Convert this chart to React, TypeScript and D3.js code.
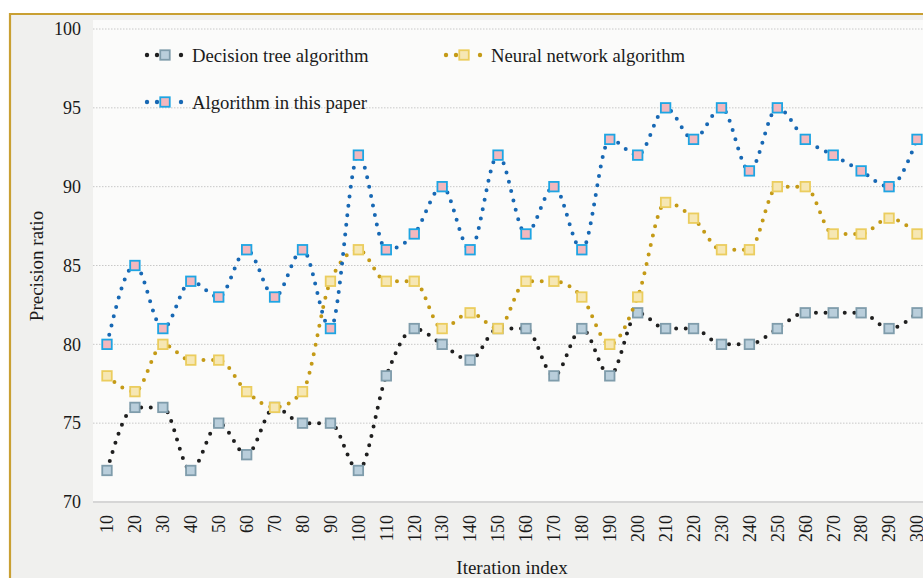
import React, { useEffect, useRef } from "react";
import * as d3 from "d3";

const iterations = [
  10, 20, 30, 40, 50, 60, 70, 80, 90, 100, 110, 120, 130, 140, 150,
  160, 170, 180, 190, 200, 210, 220, 230, 240, 250, 260, 270, 280, 290, 300,
];
const decisionTree = [
  72, 76, 76, 72, 75, 73, 76, 75, 75, 72, 78, 81, 80, 79, 81,
  81, 78, 81, 78, 82, 81, 81, 80, 80, 81, 82, 82, 82, 81, 82,
];
const neuralNetwork = [
  78, 77, 80, 79, 79, 77, 76, 77, 84, 86, 84, 84, 81, 82, 81,
  84, 84, 83, 80, 83, 89, 88, 86, 86, 90, 90, 87, 87, 88, 87,
];
const thisPaper = [
  80, 85, 81, 84, 83, 86, 83, 86, 81, 92, 86, 87, 90, 86, 92,
  87, 90, 86, 93, 92, 95, 93, 95, 91, 95, 93, 92, 91, 90, 93,
];
const yTicks = [70, 75, 80, 85, 90, 95, 100];

const series = [
  { name: "Decision tree algorithm", values: decisionTree, line: "#1f1f1f", fill: "#b9cedb", stroke: "#7f9cab" },
  { name: "Neural network algorithm", values: neuralNetwork, line: "#c49a16", fill: "#f6e7b4", stroke: "#ebcd5e" },
  { name: "Algorithm in this paper", values: thisPaper, line: "#1768b4", fill: "#f3b8be", stroke: "#1ea5e3" },
];

const W = 923;
const H = 578;
const FONT = "Liberation Serif, Times New Roman, DejaVu Serif, serif";

export default function App() {
  const ref = useRef<SVGSVGElement>(null);

  useEffect(() => {
    const svg = d3.select(ref.current);
    svg.selectAll("*").remove();

    const x = d3.scalePoint<number>().domain(iterations).range([107, 917]);
    const y = d3.scaleLinear().domain([70, 100]).range([502, 29]);

    // paper background + frame
    svg.append("rect").attr("width", W).attr("height", H).attr("fill", "#f0f0ee");
    svg.append("rect").attr("x", 0).attr("y", 0).attr("width", W).attr("height", 13).attr("fill", "#ffffff");
    svg.append("rect").attr("x", 0).attr("y", 0).attr("width", 9).attr("height", H).attr("fill", "#ffffff");
    svg.append("rect").attr("x", 93).attr("y", 20).attr("width", W - 93).attr("height", 482).attr("fill", "#fbfbfa");
    svg.append("line").attr("x1", 10).attr("x2", W).attr("y1", 14).attr("y2", 14)
      .attr("stroke", "#c9a033").attr("stroke-width", 2.2);
    svg.append("line").attr("x1", 10).attr("x2", 10).attr("y1", 13).attr("y2", H)
      .attr("stroke", "#c9a033").attr("stroke-width", 2.2);

    const label = (sel: any, size = 18) =>
      sel.style("font-family", FONT).style("font-size", `${size}px`).attr("fill", "#1a1a1a");

    // grid
    const g = svg.append("g");
    g.selectAll("line.grid")
      .data(yTicks.filter((d) => d > 70))
      .join("line")
      .attr("x1", 93).attr("x2", W)
      .attr("y1", (d) => y(d)).attr("y2", (d) => y(d))
      .attr("stroke", "#c8c8c8").attr("stroke-width", 1).attr("stroke-dasharray", "1.5 1.5");
    g.append("line").attr("x1", 93).attr("x2", W).attr("y1", y(70)).attr("y2", y(70))
      .attr("stroke", "#d6d6d6").attr("stroke-width", 2);

    // y tick labels
    g.selectAll("text.yt")
      .data(yTicks)
      .join("text")
      .attr("x", 81).attr("y", (d) => y(d)).attr("dy", "0.35em")
      .attr("text-anchor", "end")
      .call(label, 18)
      .text((d) => d);

    // x tick labels
    g.selectAll("text.xt")
      .data(iterations)
      .join("text")
      .attr("transform", (d) => `translate(${x(d)},515) rotate(-90)`)
      .attr("dy", "0.35em")
      .attr("text-anchor", "end")
      .call(label, 18)
      .text((d) => d);

    // axis titles
    svg.append("text")
      .attr("transform", "translate(36,266) rotate(-90)")
      .attr("text-anchor", "middle").attr("dy", "0.35em")
      .call(label, 19)
      .text("Precision ratio");
    svg.append("text")
      .attr("x", 512).attr("y", 567).attr("dy", "0.35em")
      .attr("text-anchor", "middle")
      .call(label, 19)
      .text("Iteration index");

    const line = d3.line<number>()
      .x((_, i) => x(iterations[i]) as number)
      .y((d) => y(d))
      .curve(d3.curveMonotoneX);

    const sq = 9.5;
    series.forEach((s) => {
      svg.append("path")
        .attr("d", line(s.values))
        .attr("fill", "none")
        .attr("stroke", s.line)
        .attr("stroke-width", 4)
        .attr("stroke-linecap", "round")
        .attr("stroke-dasharray", "0 9.6");
      svg.append("g")
        .selectAll("rect")
        .data(s.values)
        .join("rect")
        .attr("x", (_, i) => (x(iterations[i]) as number) - sq / 2)
        .attr("y", (d) => y(d) - sq / 2)
        .attr("width", sq).attr("height", sq)
        .attr("fill", s.fill).attr("stroke", s.stroke).attr("stroke-width", 1.8);
    });

    // legend
    const legendPos = [
      { x: 147, y: 55 },
      { x: 446, y: 55 },
      { x: 147, y: 102 },
    ];
    series.forEach((s, i) => {
      const p = legendPos[i];
      const lg = svg.append("g").attr("transform", `translate(${p.x},${p.y})`);
      [0, 10, 34].forEach((cx) => {
        lg.append("circle").attr("cx", cx).attr("cy", 0).attr("r", 2.2).attr("fill", s.line);
      });
      lg.append("rect").attr("x", 18 - sq / 2).attr("y", -sq / 2).attr("width", sq).attr("height", sq)
        .attr("fill", s.fill).attr("stroke", s.stroke).attr("stroke-width", 1.8);
      lg.append("text").attr("x", 45).attr("y", 0).attr("dy", "0.35em")
        .call(label, 18.7)
        .text(s.name);
    });
  }, []);

  return (
    <svg
      ref={ref}
      width={W}
      height={H}
      style={{ position: "fixed", left: 0, top: 0, display: "block" }}
    />
  );
}
